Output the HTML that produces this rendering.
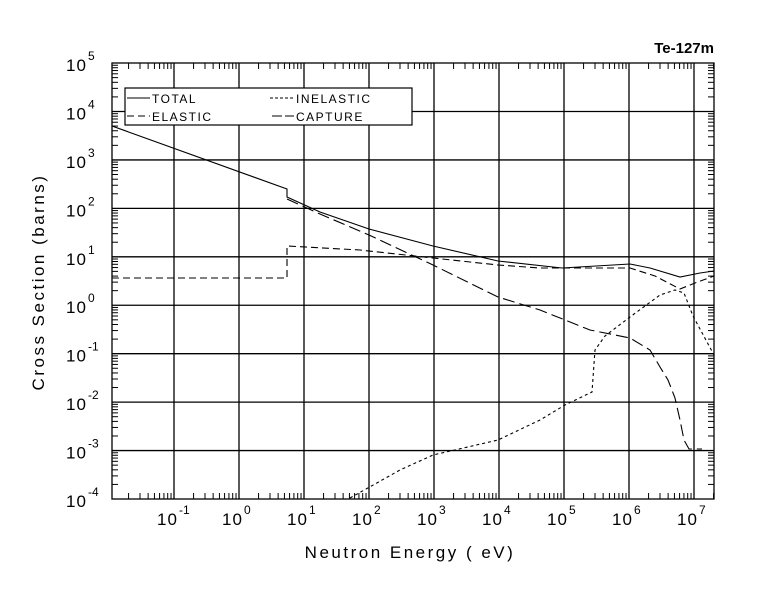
<!DOCTYPE html>
<html><head><meta charset="utf-8"><style>
body{margin:0;background:#fff;}
svg{display:block;font-family:"Liberation Sans",sans-serif;}
</style></head><body>
<svg id="s" width="780" height="590" xmlns="http://www.w3.org/2000/svg"></svg>
<script>
const s=document.getElementById('s');
const L=112,R=714,T=63,B=499;
const X=e=>239+e*65, Y=p=>499-(p+4)*48.44;
let h='';
h+=`<rect x="${L}" y="${T}" width="${R-L}" height="${B-T}" fill="none" stroke="#000" stroke-width="1.3"/>`;
for(let e=-1;e<=7;e++){const x=X(e);h+=`<line x1="${x}" y1="${T}" x2="${x}" y2="${B}" stroke="#000" stroke-width="1.3"/>`;
 h+=`<text x="${x-17}" y="${B+26}" font-size="17" letter-spacing="1">10</text><text x="${x+5}" y="${B+15}" font-size="12">${e}</text>`;}
for(let p=-4;p<=5;p++){const y=Y(p);if(p>-4&&p<5)h+=`<line x1="${L}" y1="${y}" x2="${R}" y2="${y}" stroke="#000" stroke-width="1.3"/>`;
 h+=`<text x="66" y="${y+8}" font-size="17" letter-spacing="1">10</text><text x="88" y="${y-3}" font-size="12">${p}</text>`;}
for(let e=-2;e<=7;e++)for(let k=2;k<=9;k++){const x=X(e+Math.log10(k));if(x<L||x>R)continue;
 h+=`<line x1="${x}" y1="${B}" x2="${x}" y2="${B-6}" stroke="#000"/><line x1="${x}" y1="${T}" x2="${x}" y2="${T+6}" stroke="#000"/>`;}
for(let p=-4;p<5;p++)for(let k=2;k<=9;k++){const y=Y(p+Math.log10(k));
 h+=`<line x1="${L}" y1="${y}" x2="${L+6}" y2="${y}" stroke="#000"/><line x1="${R}" y1="${y}" x2="${R-6}" y2="${y}" stroke="#000"/>`;}
const pl=(pts,da)=>`<polyline fill="none" stroke="#000" stroke-width="1.1" ${da?`stroke-dasharray="${da}"`:''} points="${pts}"/>`;
h+=pl("112,126 287,189 287,197 320,212 369,229 433,246 498,261 562,268 630,264 650,268 680,277 700,273 714,271");
h+=pl("112,278 287,278 287,246 360,250 433,258 498,265 540,268 630,268 655,276 680,289 695,283 714,276","7,4");
h+=pl("287,199 320,214 369,235 433,265 498,297 540,310 590,330 630,338 650,350 660,367 668,380 675,398 680,420 684,440 689,449 702,449","12,5");
h+=pl("350,498 400,470 433,455 498,440 540,420 565,405 592,392 595,350 605,336 630,317 660,295 675,290 684,293 693,316 714,355","3,3");
h+=`<rect x="125" y="88" width="287" height="37" fill="#fff" stroke="#000" stroke-width="1.2"/>`;
h+=`<line x1="127" y1="98" x2="150" y2="98" stroke="#000"/><text x="152" y="103" font-size="12" letter-spacing="1.5">TOTAL</text>`;
h+=`<line x1="127" y1="116" x2="150" y2="116" stroke="#000" stroke-dasharray="7,4"/><text x="152" y="121" font-size="12" letter-spacing="1.5">ELASTIC</text>`;
h+=`<line x1="270" y1="98" x2="294" y2="98" stroke="#000" stroke-dasharray="3,2"/><text x="296" y="103" font-size="12" letter-spacing="1.5">INELASTIC</text>`;
h+=`<line x1="272" y1="116" x2="294" y2="116" stroke="#000" stroke-dasharray="10,3"/><text x="296" y="121" font-size="12" letter-spacing="1.5">CAPTURE</text>`;
h+=`<text x="714" y="53" font-size="15" font-weight="bold" text-anchor="end">Te-127m</text>`;
h+=`<text x="410" y="558" font-size="17" text-anchor="middle" letter-spacing="2.5">Neutron Energy ( eV)</text>`;
h+=`<text transform="translate(44,282) rotate(-90)" font-size="17" text-anchor="middle" letter-spacing="2.5">Cross Section (barns)</text>`;
s.innerHTML=h;
</script>
</body></html>
